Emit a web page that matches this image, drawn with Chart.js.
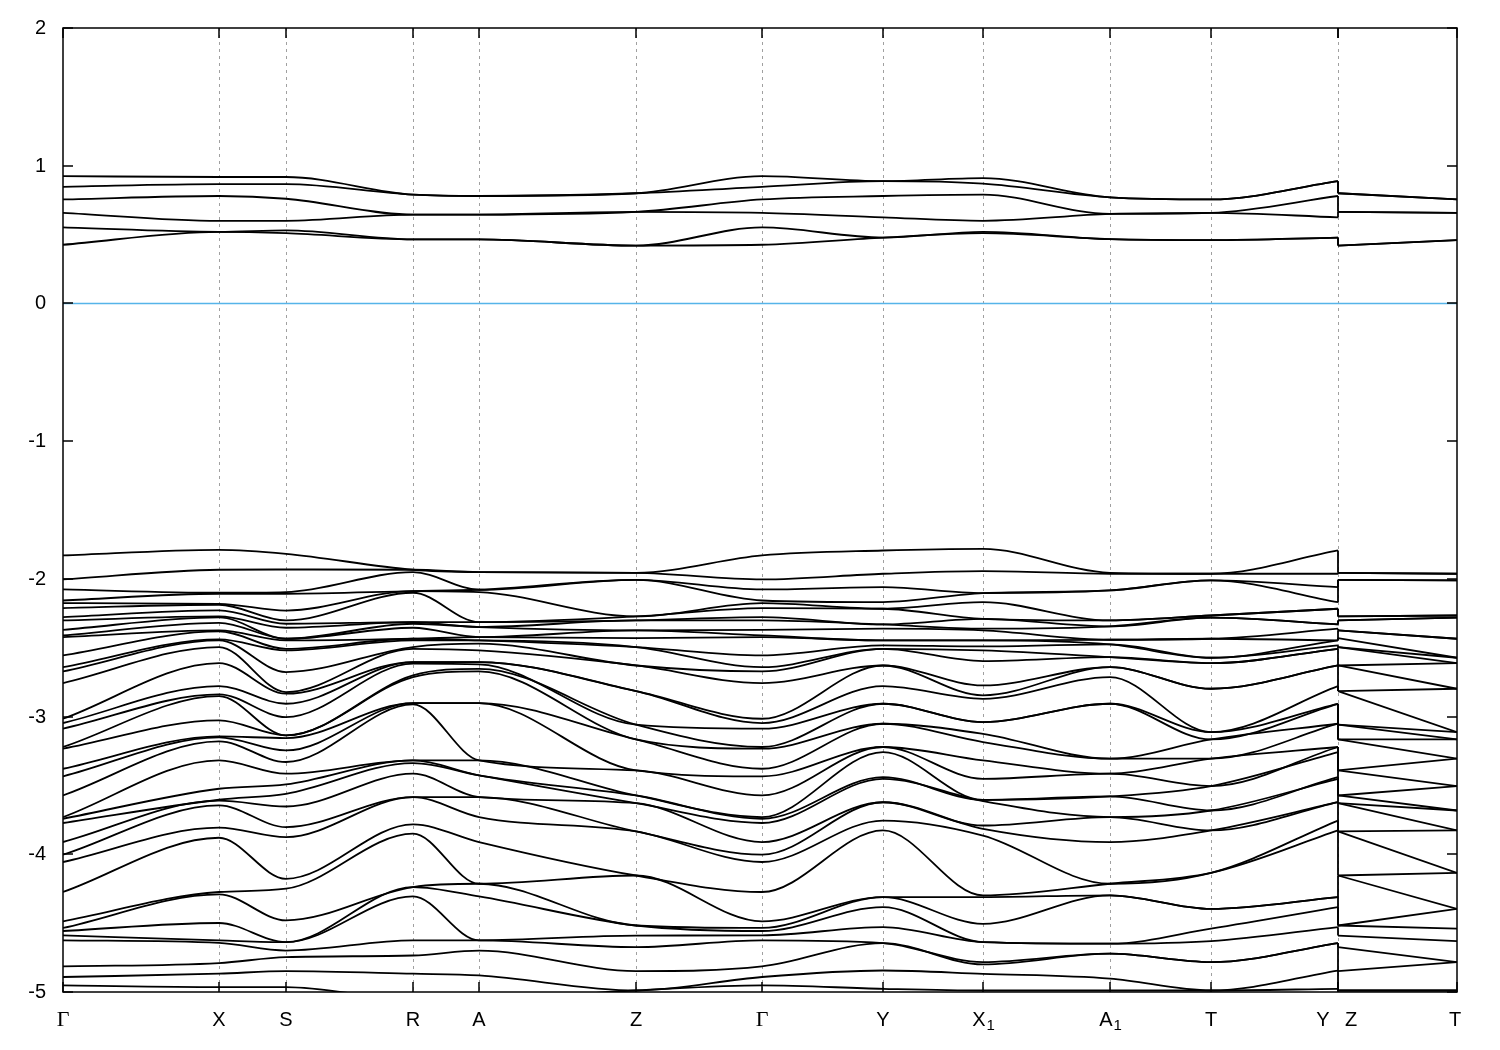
<!DOCTYPE html>
<html>
<head>
<meta charset="utf-8">
<script src="https://cdn.jsdelivr.net/npm/chart.js@4.4.0/dist/chart.umd.min.js"></script>
<style>
  html, body { margin: 0; background: #fff; }
</style>
</head>
<body>
<canvas id="bands" width="1500" height="1050"></canvas>
<script>
// high-symmetry path (path coordinate in arbitrary units)
const K_NAMES = ["Γ", "X", "S", "R", "A", "Z", "Γ", "Y", "X_1", "A_1", "T", "Y", "Z", "T"]
const K_POS = [0, 156, 223, 350, 416, 573, 699, 820, 920, 1047, 1148, 1275, 1275, 1394]
const Y_TICKS = [2, 1, 0, -1, -2, -3, -4, -5]
const JUMP = 11 // Y | Z discontinuity (index of Y before the jump)

// band energies (eV) at each k-point, top to bottom: 6 conduction, 38 valence
const E_G = [0.924, 0.847, 0.755, 0.658, 0.552, 0.426,
  -1.83, -2.004, -2.077, -2.157, -2.176, -2.212, -2.278, -2.302, -2.37, -2.411,
  -2.423, -2.556, -2.641, -2.672, -2.757, -3.016, -3.047, -3.088, -3.221, -3.233,
  -3.379, -3.434, -3.572, -3.73, -3.742, -3.773, -3.911, -4.003, -4.056, -4.274,
  -4.487, -4.535, -4.557, -4.589, -4.625, -4.814, -4.891, -4.952]
const E_X = [0.918, 0.866, 0.78, 0.6, 0.52, 0.52,
  -1.789, -1.934, -2.101, -2.108, -2.181, -2.188, -2.229, -2.273, -2.28, -2.319,
  -2.374, -2.382, -2.44, -2.447, -2.495, -2.612, -2.779, -2.839, -2.851, -3.028,
  -3.144, -3.151, -3.18, -3.318, -3.524, -3.604, -3.611, -3.645, -3.807, -3.88,
  -4.274, -4.291, -4.499, -4.625, -4.644, -4.79, -4.867, -4.964]
const E_S = [0.918, 0.866, 0.76, 0.6, 0.53, 0.51,
  -1.818, -1.932, -2.096, -2.108, -2.23, -2.302, -2.326, -2.355, -2.435, -2.435,
  -2.447, -2.508, -2.52, -2.677, -2.822, -2.834, -2.907, -3.004, -3.137, -3.137,
  -3.156, -3.246, -3.33, -3.415, -3.493, -3.561, -3.653, -3.803, -3.876, -4.178,
  -4.25, -4.48, -4.638, -4.638, -4.699, -4.747, -4.848, -4.965]
const E_R = [0.79, 0.79, 0.645, 0.645, 0.465, 0.465,
  -1.934, -1.934, -1.951, -2.089, -2.089, -2.101, -2.314, -2.314, -2.326, -2.355,
  -2.435, -2.435, -2.447, -2.495, -2.508, -2.604, -2.604, -2.616, -2.701, -2.713,
  -2.902, -2.902, -2.912, -3.318, -3.318, -3.338, -3.415, -3.585, -3.585, -3.783,
  -3.85, -4.238, -4.238, -4.306, -4.625, -4.735, -4.867, -5.05]
const E_A = [0.78, 0.78, 0.645, 0.645, 0.465, 0.465,
  -1.951, -1.951, -2.079, -2.079, -2.096, -2.314, -2.314, -2.35, -2.35, -2.423,
  -2.423, -2.447, -2.447, -2.471, -2.52, -2.604, -2.604, -2.621, -2.653, -2.672,
  -2.902, -2.902, -3.318, -3.318, -3.427, -3.427, -3.585, -3.585, -3.73, -3.911,
  -4.214, -4.214, -4.306, -4.625, -4.625, -4.7, -4.88, -5.05]
const E_Z = [0.8, 0.8, 0.665, 0.665, 0.42, 0.42,
  -1.956, -1.956, -2.007, -2.007, -2.273, -2.273, -2.302, -2.302, -2.374, -2.374,
  -2.43, -2.495, -2.495, -2.629, -2.629, -2.815, -2.815, -3.059, -3.059, -3.166,
  -3.166, -3.391, -3.391, -3.573, -3.573, -3.629, -3.629, -3.834, -3.834, -4.154,
  -4.154, -4.517, -4.517, -4.59, -4.674, -4.848, -4.989, -4.989]
const E_Y = [0.888, 0.888, 0.78, 0.625, 0.478, 0.478,
  -1.794, -1.963, -2.06, -2.169, -2.217, -2.217, -2.331, -2.331, -2.362, -2.447,
  -2.447, -2.483, -2.508, -2.508, -2.629, -2.629, -2.779, -2.907, -2.907, -3.052,
  -3.052, -3.221, -3.221, -3.258, -3.44, -3.452, -3.622, -3.622, -3.755, -3.827,
  -4.311, -4.311, -4.384, -4.529, -4.645, -4.645, -4.844, -4.977]
const E_X1 = [0.91, 0.87, 0.79, 0.6, 0.52, 0.51,
  -1.782, -1.944, -2.103, -2.103, -2.169, -2.29, -2.29, -2.362, -2.374, -2.447,
  -2.447, -2.491, -2.52, -2.597, -2.774, -2.846, -2.871, -3.04, -3.04, -3.125,
  -3.185, -3.318, -3.452, -3.605, -3.605, -3.614, -3.791, -3.815, -3.864, -4.299,
  -4.311, -4.505, -4.638, -4.638, -4.783, -4.8, -4.868, -4.989]
const E_A1 = [0.77, 0.77, 0.65, 0.65, 0.467, 0.467,
  -1.956, -1.963, -2.084, -2.084, -2.302, -2.302, -2.345, -2.345, -2.442, -2.442,
  -2.476, -2.476, -2.568, -2.568, -2.641, -2.641, -2.713, -2.907, -2.907, -3.306,
  -3.306, -3.415, -3.415, -3.58, -3.58, -3.73, -3.73, -3.911, -4.214, -4.214,
  -4.298, -4.298, -4.649, -4.649, -4.722, -4.722, -4.903, -4.989]
const E_T = [0.755, 0.755, 0.658, 0.658, 0.46, 0.46,
  -1.963, -1.963, -2.011, -2.011, -2.266, -2.266, -2.282, -2.282, -2.435, -2.435,
  -2.573, -2.573, -2.612, -2.612, -2.798, -2.798, -3.113, -3.113, -3.166, -3.166,
  -3.306, -3.306, -3.505, -3.505, -3.682, -3.682, -3.827, -3.827, -4.135, -4.135,
  -4.397, -4.397, -4.54, -4.631, -4.783, -4.783, -4.989, -4.989]

const PATH = [E_G, E_X, E_S, E_R, E_A, E_Z, E_G, E_Y, E_X1, E_A1, E_T, E_Y, E_Z, E_T]

const lineStyle = { borderColor: "#000", borderWidth: 1.8, pointRadius: 0 }
const datasets = []
E_G.forEach((_, b) => {
  const pts = K_POS.map((x, i) => ({ x, y: PATH[i][b] }))
  // smooth branch up to Y, the vertical jump Y -> Z, then Z -> T
  datasets.push({ ...lineStyle, data: pts.slice(0, JUMP + 1), cubicInterpolationMode: "monotone" })
  datasets.push({ ...lineStyle, data: pts.slice(JUMP, JUMP + 2), tension: 0 })
  datasets.push({ ...lineStyle, data: pts.slice(JUMP + 1), tension: 0 })
})
datasets.push({
  data: [{ x: K_POS[0], y: 0 }, { x: K_POS[K_POS.length - 1], y: 0 }],
  borderColor: "#56b4e9",
  borderWidth: 1.5,
  pointRadius: 0
})

function drawLabel(ctx, text, px, py) {
  if (text === "Γ") {
    ctx.font = "22px 'Liberation Serif'"
    ctx.textAlign = "center"
    ctx.fillText(text, px, py)
    return
  }
  ctx.font = "20px 'Liberation Sans'"
  const [base, sub] = text.split("_")
  if (!sub) {
    ctx.textAlign = "center"
    ctx.fillText(base, px, py)
    return
  }
  const bw = ctx.measureText(base).width
  ctx.font = "15px 'Liberation Sans'"
  const sw = ctx.measureText(sub).width
  const left = px - (bw + sw) / 2
  ctx.textAlign = "left"
  ctx.font = "20px 'Liberation Sans'"
  ctx.fillText(base, left, py)
  ctx.font = "15px 'Liberation Sans'"
  ctx.fillText(sub, left + bw + 1, py + 6)
}

const frame = {
  id: "frame",
  beforeDatasetsDraw(chart) {
    const { ctx, chartArea: a, scales: { x } } = chart
    ctx.save()
    ctx.strokeStyle = "#a0a0a0"
    ctx.lineWidth = 1
    ctx.setLineDash([3, 4])
    K_POS.slice(1, -1).forEach(k => {
      const px = Math.round(x.getPixelForValue(k)) + 0.5
      ctx.beginPath()
      ctx.moveTo(px, a.top)
      ctx.lineTo(px, a.bottom)
      ctx.stroke()
    })
    ctx.restore()
  },
  afterDatasetsDraw(chart) {
    const { ctx, chartArea: a, scales: { x, y } } = chart
    ctx.save()
    ctx.strokeStyle = "#000"
    ctx.lineWidth = 1.5
    ctx.strokeRect(a.left, a.top, a.right - a.left, a.bottom - a.top)
    ctx.fillStyle = "#000"
    ctx.textBaseline = "middle"
    Y_TICKS.forEach(v => {
      const py = Math.round(y.getPixelForValue(v))
      ctx.beginPath()
      ctx.moveTo(a.left, py); ctx.lineTo(a.left + 10, py)
      ctx.moveTo(a.right, py); ctx.lineTo(a.right - 10, py)
      ctx.stroke()
      ctx.font = "20px 'Liberation Sans'"
      ctx.textAlign = "right"
      ctx.fillText(String(v), a.left - 17, py)
    })
    K_POS.forEach(k => {
      const px = Math.round(x.getPixelForValue(k))
      ctx.beginPath()
      ctx.moveTo(px, a.bottom); ctx.lineTo(px, a.bottom - 10)
      ctx.moveTo(px, a.top); ctx.lineTo(px, a.top + 10)
      ctx.stroke()
    })
    const ly = a.bottom + 28
    K_NAMES.forEach((name, i) => {
      let px = x.getPixelForValue(K_POS[i])
      if (i === JUMP) px -= 15
      if (i === JUMP + 1) px += 13
      if (i === K_POS.length - 1) px -= 2
      drawLabel(ctx, name, px, ly)
    })
    ctx.restore()
  }
}

new Chart(document.getElementById("bands"), {
  type: "line",
  data: { datasets },
  options: {
    responsive: false,
    animation: false,
    devicePixelRatio: 1,
    layout: { padding: { left: 63, right: 43, top: 28, bottom: 58 } },
    plugins: { legend: { display: false }, tooltip: { enabled: false } },
    scales: {
      x: { type: "linear", min: 0, max: 1394, display: false },
      y: { min: -5, max: 2, display: false }
    }
  },
  plugins: [frame]
})
</script>
</body>
</html>
